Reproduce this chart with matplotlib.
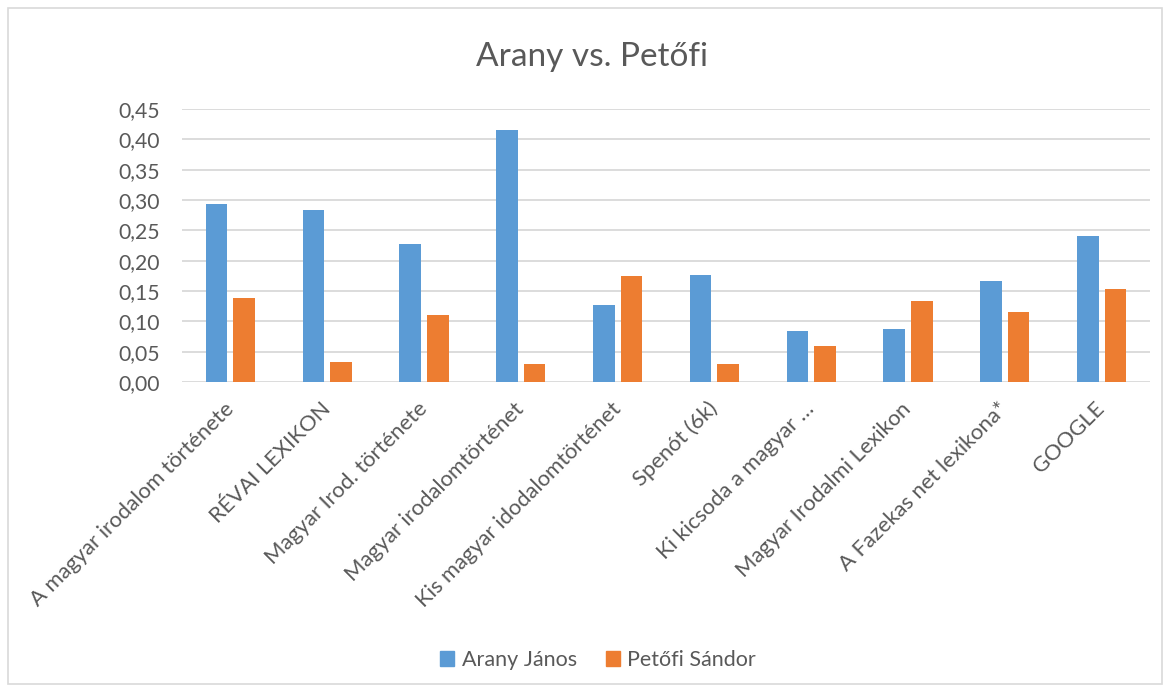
import numpy as np
import matplotlib
matplotlib.use("Agg")
import matplotlib.pyplot as plt
from matplotlib.patches import Rectangle, Patch
from matplotlib.ticker import FuncFormatter, MultipleLocator

plt.rcParams['font.family'] = ['Lato', 'DejaVu Sans']

# Data
categories = ["A magyar irodalom története", "RÉVAI LEXIKON", "Magyar Irod. története",
              "Magyar irodalomtörténet", "Kis magyar idodalomtörténet", "Spenót (6k)",
              "Ki kicsoda a magyar …", "Magyar Irodalmi Lexikon", "A Fazekas net lexikona*",
              "GOOGLE"]
arany = [0.293, 0.283, 0.227, 0.415, 0.127, 0.176, 0.084, 0.088, 0.166, 0.240]
petofi = [0.138, 0.033, 0.111, 0.029, 0.174, 0.030, 0.059, 0.133, 0.115, 0.154]
series_names = ["Arany János", "Petőfi Sándor"]

blue = "#5B9BD5"
orange = "#ED7D31"
text_col = "#595959"
grid_col = "#D9D9D9"

W, H = 1170, 692
fig = plt.figure(figsize=(W / 100, H / 100), dpi=100)
ax = fig.add_axes([182 / W, 1 - 382 / H, (1150 - 182) / W, (382 - 109) / H])

x = np.arange(len(categories))
bw = 0.222
off = 0.143
ax.bar(x - off, arany, width=bw, color=blue, zorder=3)
ax.bar(x + off, petofi, width=bw, color=orange, zorder=3)

ax.set_xlim(-0.5, len(categories) - 0.5)
ax.set_ylim(0, 0.45)
ax.yaxis.set_major_locator(MultipleLocator(0.05))
ax.yaxis.set_major_formatter(FuncFormatter(lambda v, p: f"{v:.2f}".replace(".", ",")))
ax.grid(axis="y", color=grid_col, linewidth=1.3, zorder=0)
for s in ax.spines.values():
    s.set_visible(False)
ax.tick_params(axis="y", length=0, pad=16, labelsize=15.2, labelcolor=text_col)
ax.tick_params(axis="x", length=0, pad=17, labelsize=15.8, labelcolor=text_col)
ax.set_xticks(x)
ax.set_xticklabels(categories, rotation=45, ha="right", va="center", rotation_mode="anchor")

fig.text(592 / W, 1 - 66 / H, "Arany vs. Petőfi", ha="center", va="baseline",
         fontsize=24, color=text_col)

handles = [Patch(color=blue), Patch(color=orange)]
fig.legend(handles, series_names, loc="center", bbox_to_anchor=(598 / W, 1 - 660 / H),
           ncol=2, frameon=False, fontsize=15.5, labelcolor=text_col,
           handlelength=0.65, handleheight=0.65, handletextpad=0.35, columnspacing=1.35)

fig.patches.append(Rectangle((8 / W, 8 / H), (1162 - 8) / W, (684 - 8) / H,
                             transform=fig.transFigure, fill=False,
                             edgecolor=grid_col, linewidth=1.2))

fig.savefig("out.png", dpi=100, facecolor="white")
